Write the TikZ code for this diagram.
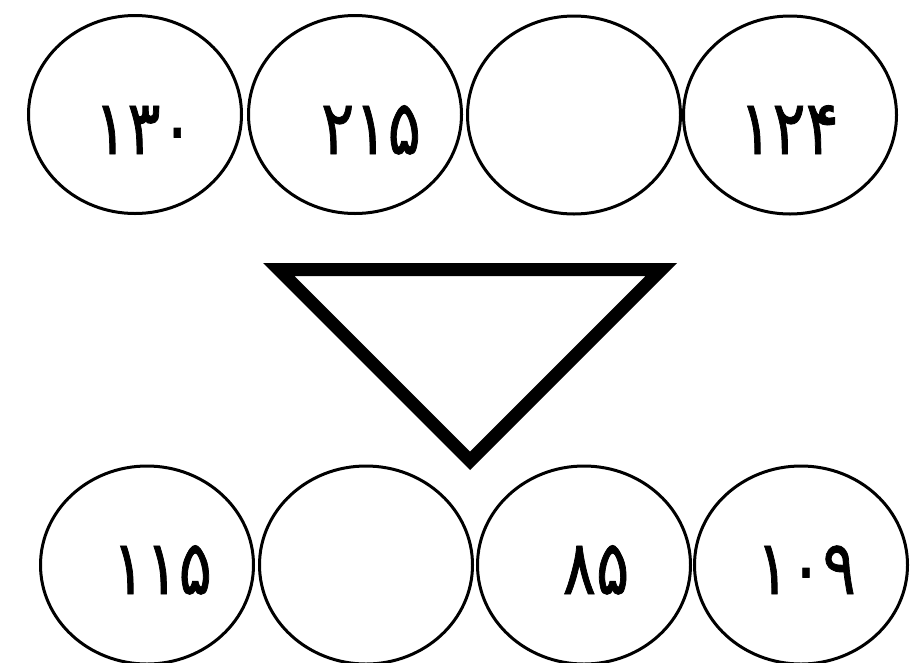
\documentclass[tikz,border=0pt]{standalone}
\usepackage{fontspec}
\usepackage{graphicx}
\newfontfamily\fadigits[FakeBold=1.2]{DejaVu Sans}
\newcommand{\tallnum}[1]{\scalebox{1}[1.22]{#1}}
\usetikzlibrary{shapes.geometric}
\begin{document}
\begin{tikzpicture}[x=1pt,y=-1pt,
  cell/.style={ellipse, draw, line width=3pt, minimum width=213pt, minimum height=198pt, inner sep=0pt},
  num/.style={font=\fadigits\fontsize{62}{62}\selectfont, inner sep=0pt, anchor=base},
  tri/.style={draw, line width=13pt, line join=miter}]
\useasboundingbox[fill=white] (0,0) rectangle (912,662);
% top row
\node[cell] (t1) at (135,114.5) {};
\node[cell] (t2) at (355,114.5) {};
\node[cell] (t3) at (574,115) {};
\node[cell] (t4) at (790,115) {};
\node[num] (n1) at (144,154) {\tallnum{۱۳۰}};
\node[num] (n2) at (371,154) {\tallnum{۲۱۵}};
\node[num] (n4) at (789,154) {\tallnum{۱۲۴}};
% triangle
\draw[tri] (278.7,269.5) -- (661.3,269.5) -- (470,460.8) -- cycle;
% bottom row
\node[cell] (b1) at (147,565) {};
\node[cell] (b2) at (366,565) {};
\node[cell] (b3) at (584,565) {};
\node[cell] (b4) at (801,565) {};
\node[num] (m1) at (162,594) {\tallnum{۱۱۵}};
\node[num] (m3) at (596,594) {\tallnum{۸۵}};
\node[num] (m4) at (806,594) {\tallnum{۱۰۹}};
\end{tikzpicture}
\end{document}
